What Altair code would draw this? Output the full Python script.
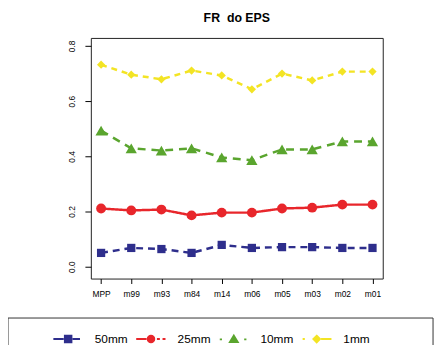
import altair as alt
import pandas as pd

cats = ["MPP", "m99", "m93", "m84", "m14", "m06", "m05", "m03", "m02", "m01"]
series_names = ["50mm", "25mm", "10mm", "1mm"]
v50 = [0.050, 0.068, 0.064, 0.050, 0.079, 0.068, 0.071, 0.071, 0.068, 0.068]
v25 = [0.211, 0.204, 0.207, 0.186, 0.196, 0.196, 0.211, 0.214, 0.225, 0.225]
v10 = [0.493, 0.429, 0.421, 0.429, 0.396, 0.386, 0.425, 0.425, 0.454, 0.454]
v1 = [0.732, 0.696, 0.679, 0.711, 0.693, 0.643, 0.700, 0.675, 0.707, 0.707]
y_ticks = [0.0, 0.2, 0.4, 0.6, 0.8]

colors = ["#2e2e8c", "#e8262b", "#5aa52e", "#f3e424"]
dashes = [[7, 5], [1, 0], [8, 6], [6, 5]]
marker_shapes = ["square", "circle", "triangle-up", "diamond"]
marker_sizes = [70, 100, 130, 70]
legend_paths = [
    "M-1,0H-0.3M0.3,0H0.8M-0.22,-0.22H0.22V0.22H-0.22Z",
    "M-1,0H-0.3M0.4,0H0.6M0.78,0H0.98M0.22,0A0.22,0.22 0 1,1 -0.22,0A0.22,0.22 0 1,1 0.22,0Z",
    "M-0.95,0H-0.8M0.7,0H0.85M0,-0.25L0.26,0.18H-0.26Z",
    "M-0.95,0H-0.8M0.3,0H1M0,-0.22L0.22,0L0,0.22L-0.22,0Z",
]

rows = []
for name, vals in zip(series_names, [v50, v25, v10, v1]):
    for c, v in zip(cats, vals):
        rows.append({"cat": c, "series": name, "value": v})
df = pd.DataFrame(rows)

FONT = "Liberation Sans"

xenc = alt.X(
    "cat:N",
    sort=cats,
    scale=alt.Scale(type="point", padding=0.34),
    axis=alt.Axis(title=None, labelAngle=0, labelFontSize=8.5, tickSize=5,
                  labelPadding=6, domain=False, grid=False),
)
yenc = alt.Y(
    "value:Q",
    scale=alt.Scale(domain=[-0.043, 0.829], nice=False, zero=False),
    axis=alt.Axis(title=None, values=y_ticks, format=".1f", labelAngle=270,
                  labelAlign="center", labelBaseline="bottom", labelFontSize=8.5,
                  tickSize=6, labelPadding=9, domain=False, grid=False),
)
# visible layers: scales listed in reverse order so their (hidden) legends stay apart from the drawn one
rev_names = series_names[::-1]
color = alt.Color("series:N", scale=alt.Scale(domain=rev_names, range=colors[::-1]), legend=None)

lines = alt.Chart(df).mark_line(strokeWidth=2.5).encode(
    x=xenc, y=yenc, color=color,
    strokeDash=alt.StrokeDash("series:N", scale=alt.Scale(domain=rev_names, range=dashes[::-1]), legend=None),
)

point_layers = []
for name, shp, sz in zip(series_names, marker_shapes, marker_sizes):
    point_layers.append(
        alt.Chart(df).transform_filter(alt.datum.series == name)
        .mark_point(shape=shp, filled=True, size=sz, opacity=1)
        .encode(x=xenc, y=yenc, color=color)
    )

leg = alt.Legend(
    title=None, orient="none", legendX=-39, legendY=289, direction="horizontal",
    columns=4, symbolSize=900, symbolStrokeWidth=2, symbolOpacity=1, labelFontSize=12,
    labelFont=FONT, labelOffset=11, columnPadding=4, padding=0, labelColor="black",
)
legend_layer = alt.Chart(df).mark_point(size=0).encode(
    x=xenc, y=yenc,
    fill=alt.Fill("series:N", scale=alt.Scale(domain=series_names, range=colors), legend=leg),
    stroke=alt.Stroke("series:N", scale=alt.Scale(domain=series_names, range=colors), legend=leg),
    shape=alt.Shape("series:N", scale=alt.Scale(domain=series_names, range=legend_paths), legend=leg),
)

box = alt.Chart(pd.DataFrame({"a": [0]})).mark_rect(fillOpacity=0, stroke="#333", strokeWidth=1).encode(
    x=alt.value(-84), x2=alt.value(347), y=alt.value(284), y2=alt.value(320)
)

chart = alt.layer(lines, *point_layers, legend_layer, box).properties(
    width=296, height=244,
    padding={"left": 84, "top": 28, "right": 54, "bottom": 65},
    autosize=alt.AutoSizeParams(type="none"),
    title=alt.TitleParams("FR\u00a0 do EPS", fontSize=12.5, fontWeight="bold", font=FONT,
                          offset=14, anchor="middle", color="black"),
).configure_view(stroke="#222", strokeWidth=1).configure_axis(
    labelFont=FONT, labelColor="black", tickColor="black"
)

chart.save("out.html", embed_options={"renderer": "svg", "actions": False})
